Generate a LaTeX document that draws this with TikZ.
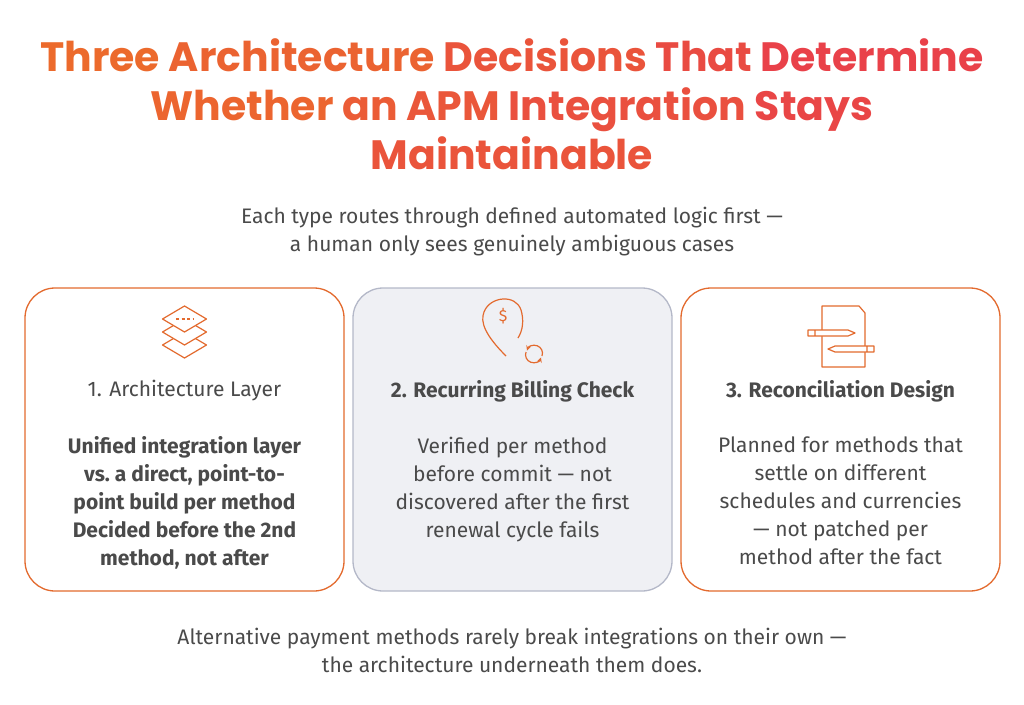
\documentclass[tikz,border=0pt]{standalone}
\usepackage{fontspec}
\setmainfont{Fira Sans}
\newfontfamily\titlefont{Poppins}
\usetikzlibrary{positioning}
\definecolor{accent}{HTML}{E36A2E}
\definecolor{titleA}{HTML}{EC6A2C}
\definecolor{titleB}{HTML}{E83A4E}
\definecolor{bodytext}{HTML}{4A4A4A}
\definecolor{cardgray}{HTML}{EFF0F4}
\definecolor{cardline}{HTML}{B4B8C8}
\newcommand{\tw}[2]{\textcolor{titleB!#1!titleA}{#2}}

\begin{document}
\begin{tikzpicture}[x=1pt,y=-1pt,
    card/.style={draw=accent,line width=1.3pt,fill=white,rounded corners=30pt,minimum width=319pt,minimum height=303pt},
    graycard/.style={card,draw=cardline,fill=cardgray},
    head/.style={font=\fontsize{21}{24}\selectfont,text=bodytext,align=center},
    body/.style={font=\fontsize{21}{28}\selectfont,text=bodytext,align=center},
    icon/.style={draw=accent,line width=1.2pt,line join=round}
    ]
  \useasboundingbox (0,0) rectangle (1024,704);

  % title and subtitle
  \node(title) [font=\titlefont\bfseries\fontsize{41}{49}\selectfont,align=center] at (512,104)
    {\tw{0}{Three} \tw{15}{Architecture} \tw{45}{Decisions} \tw{65}{That} \tw{85}{Determine}\\
     \tw{10}{Whether} \tw{30}{an} \tw{40}{APM} \tw{55}{Integration} \tw{75}{Stays}\\
     \tw{45}{Maintainable}};
  \node(subtitle) [font=\fontsize{21}{28}\selectfont,text=bodytext,align=center] at (512,232)
    {Each type routes through defined automated logic first —\\a human only sees genuinely ambiguous cases};

  % cards
  \node(layer) [card] at (184.5,439.5) {};
  \node(billing) [graycard] at (512.5,439.5) {};
  \node(recon) [card] at (840.5,439.5) {};

  \node(layerHead) [head] at (184.5,391) {1. Architecture Layer};
  \node(billingHead) [head,font=\bfseries\fontsize{21}{24}\selectfont] at (512.5,391) {2. Recurring Billing Check};
  \node(reconHead) [head,font=\bfseries\fontsize{21}{24}\selectfont] at (840.5,391) {3. Reconciliation Design};

  \node(layerText) [body,font=\bfseries\fontsize{21}{28}\selectfont,below=28pt of layerHead.south,anchor=north]
    {Unified integration layer\\vs.\ a direct, point-to-\\point build per method\\Decided before the 2nd\\method, not after};
  \node(billingText) [body,below=28pt of billingHead.south,anchor=north]
    {Verified per method\\before commit — not\\discovered after the first\\renewal cycle fails};
  \node(reconText) [body,below=28pt of reconHead.south,anchor=north]
    {Planned for methods that\\settle on different\\schedules and currencies\\— not patched per\\method after the fact};

  % icons
  \foreach \dy in {26,13,0}
    \draw[icon,fill=white] (184.5,\dy+306) -- ++(22,13) -- ++(-22,13) -- ++(-22,-13) -- cycle;
  \draw[icon,dash pattern=on 3pt off 2.5pt] (176,319) -- (194,319);

  \draw[icon] (506,356) .. controls (485,335) and (480,322) .. (484,312)
    .. controls (490,296) and (516,294) .. (521,310) .. controls (524,320) and (523,330) .. (518,338);
  \node(dollar) [text=accent,font=\fontsize{16}{16}\selectfont] at (503,316) {\$};
  \draw[icon,->,>=stealth] (526,352) arc (200:20:8);
  \draw[icon,->,>=stealth] (542,356) arc (20:-160:8);

  \draw[icon] (822,306) -- (859,306) -- (865,313) -- (865,367) -- (822,367) -- cycle;
  \draw[icon,fill=white] (808,330) rectangle (815,336) -- (848,336) -- (855,333) -- (848,330) -- (815,330);
  \draw[icon,fill=white] (874,346) rectangle (867,352) -- (835,352) -- (828,349) -- (835,346) -- (867,346);

  % footer
  \node(footer) [font=\fontsize{21}{28}\selectfont,text=bodytext,align=center] at (512,650)
    {Alternative payment methods rarely break integrations on their own —\\the architecture underneath them does.};
\end{tikzpicture}
\end{document}
